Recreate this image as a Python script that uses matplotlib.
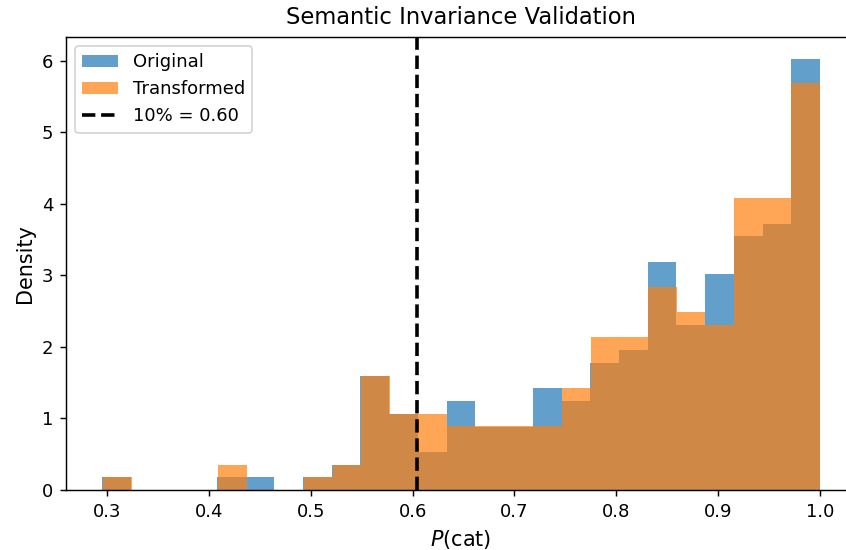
import numpy as np
import matplotlib
matplotlib.use("Agg")
import matplotlib.pyplot as plt

n_bins = 25
orig_range = (0.2950, 1.0)
trans_range = (0.2965, 1.0)
orig_counts = [1, 0, 0, 0, 1, 1, 0, 1, 2, 9, 6, 3, 7, 5, 5, 8, 7, 10, 11, 18, 13, 17, 20, 21, 34]
trans_counts = [1, 0, 0, 0, 2, 0, 0, 1, 2, 9, 6, 6, 5, 5, 5, 5, 8, 12, 12, 16, 14, 13, 23, 23, 32]
threshold = 0.604
threshold_label = "10% = 0.60"

DPI = 130
fig = plt.figure(figsize=(846 / DPI, 550 / DPI), dpi=DPI)
ax = fig.add_axes([66 / 846, 60 / 550, 790 / 846, 453 / 550])

def draw(counts, rng, label, color):
    edges = np.linspace(rng[0], rng[1], n_bins + 1)
    centers = (edges[:-1] + edges[1:]) / 2
    ax.hist(centers, bins=edges, weights=counts, density=True, alpha=0.7,
            color=color, label=label)

draw(orig_counts, orig_range, "Original", "#1f77b4")
draw(trans_counts, trans_range, "Transformed", "#ff7f0e")
ax.axvline(threshold, color="black", linestyle="--", linewidth=2, label=threshold_label)

ax.set_title("Semantic Invariance Validation", fontsize=12.5, pad=7)
ax.set_xlabel("$P$(cat)", fontsize=11.5)
ax.set_ylabel("Density", fontsize=11.5)
ax.legend(loc="upper left")
fig.savefig("out.png", dpi=DPI)
